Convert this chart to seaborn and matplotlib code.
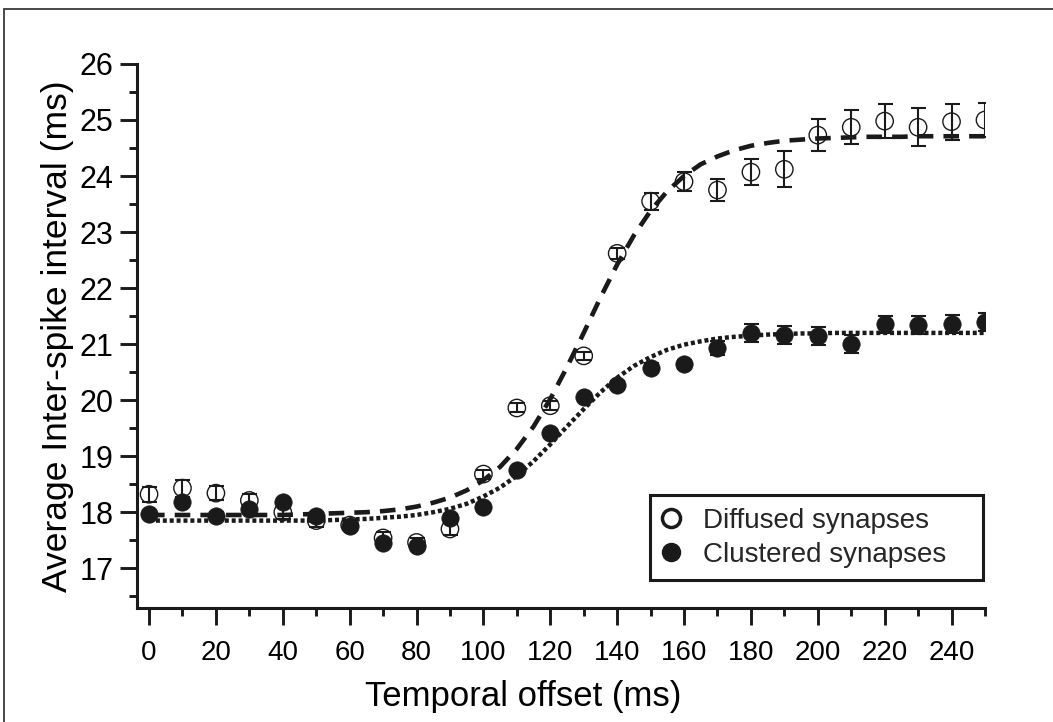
import matplotlib
matplotlib.use("Agg")
import matplotlib.pyplot as plt
import seaborn as sns
from matplotlib.lines import Line2D
from matplotlib.patches import Rectangle
from matplotlib.ticker import MultipleLocator, FixedLocator

# Measured inter-spike intervals (mean and error) per temporal offset
offset_ms = list(range(0, 251, 10))
diffused_mean = [18.32, 18.43, 18.34, 18.21, 18.00, 17.85, 17.77, 17.54, 17.46, 17.70,
                 18.68, 19.86, 19.90, 20.79, 22.62, 23.55, 23.90, 23.75, 24.07, 24.12,
                 24.73, 24.87, 24.98, 24.87, 24.97, 25.00]
diffused_err = [0.13, 0.15, 0.12, 0.12, 0.12, 0.12, 0.06, 0.10, 0.08, 0.10,
                0.08, 0.08, 0.08, 0.07, 0.10, 0.15, 0.17, 0.20, 0.23, 0.32,
                0.28, 0.30, 0.30, 0.34, 0.32, 0.31]
clustered_mean = [17.97, 18.18, 17.94, 18.05, 18.18, 17.93, 17.75, 17.45, 17.40, 17.90,
                  18.09, 18.75, 19.41, 20.05, 20.27, 20.58, 20.64, 20.93, 21.19, 21.17,
                  21.14, 21.00, 21.35, 21.34, 21.36, 21.40]
clustered_err = [0.06, 0.06, 0.06, 0.06, 0.06, 0.06, 0.06, 0.06, 0.06, 0.06,
                 0.06, 0.06, 0.06, 0.06, 0.08, 0.08, 0.08, 0.12, 0.16, 0.16,
                 0.16, 0.16, 0.16, 0.16, 0.16, 0.16]

# Sigmoidal fit curves sampled every 5 ms
fit_offset_ms = list(range(0, 251, 5))
diffused_fit = [17.95, 17.95, 17.95, 17.95, 17.95, 17.95, 17.95, 17.95, 17.95, 17.96,
                17.97, 17.98, 17.99, 18.00, 18.02, 18.05, 18.10, 18.17, 18.26, 18.39,
                18.57, 18.81, 19.13, 19.53, 20.02, 20.59, 21.20, 21.83, 22.42, 22.94,
                23.38, 23.73, 24.00, 24.21, 24.35, 24.46, 24.54, 24.59, 24.63, 24.65,
                24.67, 24.68, 24.69, 24.70, 24.70, 24.70, 24.71, 24.71, 24.71, 24.71,
                24.71]
clustered_fit = [17.85, 17.85, 17.85, 17.85, 17.85, 17.85, 17.85, 17.85, 17.85, 17.85,
                 17.85, 17.86, 17.87, 17.88, 17.90, 17.92, 17.95, 18.00, 18.06, 18.15,
                 18.28, 18.44, 18.65, 18.91, 19.21, 19.53, 19.84, 20.14, 20.40, 20.61,
                 20.77, 20.90, 20.99, 21.05, 21.10, 21.13, 21.15, 21.17, 21.18, 21.19,
                 21.19, 21.20, 21.20, 21.20, 21.20, 21.20, 21.20, 21.20, 21.20, 21.20,
                 21.20]

x_major_ticks = list(range(0, 241, 20))
x_minor_ticks = list(range(10, 251, 20))
series_labels = ["Diffused synapses", "Clustered synapses"]

sns.set_theme(style="ticks")
plt.rcParams["font.family"] = ["Liberation Sans", "DejaVu Sans"]
ink = "#1a1a1a"

fig = plt.figure(figsize=(10.53, 7.22), dpi=100)
ax = fig.add_axes([0.1301, 0.1579, 0.8053, 0.7535])

# Fit curves
sns.lineplot(x=fit_offset_ms, y=diffused_fit, ax=ax, color=ink, lw=3.3,
             linestyle=(0, (3.4, 2.2)), dash_capstyle="butt", zorder=3)
sns.lineplot(x=fit_offset_ms, y=clustered_fit, ax=ax, color=ink, lw=3.2,
             linestyle=(0, (0.9, 0.65)), dash_capstyle="butt", zorder=3)

# Error bars
ax.errorbar(offset_ms, diffused_mean, yerr=diffused_err, fmt="none", ecolor=ink,
            elinewidth=1.5, capsize=5.4, capthick=1.5, zorder=2)
ax.errorbar(offset_ms, clustered_mean, yerr=clustered_err, fmt="none", ecolor=ink,
            elinewidth=1.5, capsize=5.4, capthick=1.5, zorder=4)

# Markers
sns.scatterplot(x=offset_ms, y=diffused_mean, ax=ax, marker="o", s=12.5 ** 2,
                facecolors="none", edgecolor=ink, linewidth=1.0, zorder=4)
sns.scatterplot(x=offset_ms, y=clustered_mean, ax=ax, marker="o", s=12.5 ** 2,
                color=ink, edgecolor=ink, linewidth=0.5, zorder=5)

ax.set_xlim(-3.6, 250)
ax.set_ylim(16.29, 26)
ax.xaxis.set_major_locator(FixedLocator(x_major_ticks))
ax.xaxis.set_minor_locator(FixedLocator(x_minor_ticks))
ax.yaxis.set_major_locator(MultipleLocator(1))
ax.yaxis.set_minor_locator(MultipleLocator(0.5))

for side in ("top", "right"):
    ax.spines[side].set_visible(False)
for side in ("left", "bottom"):
    ax.spines[side].set_linewidth(2.2)
    ax.spines[side].set_color(ink)

ax.tick_params(which="major", length=12, width=2.1, color=ink, direction="out")
ax.tick_params(which="minor", length=5.5, width=2.1, color=ink, direction="out")
ax.tick_params(axis="y", which="major", labelsize=22, pad=5, labelcolor="black")
ax.tick_params(axis="x", which="major", labelsize=20, pad=11, labelcolor="black")

ax.set_xlabel("Temporal offset (ms)", fontsize=25, color="black")
ax.xaxis.set_label_coords(0.456, -0.132)
ax.set_ylabel("Average Inter-spike interval (ms)", fontsize=25.5, labelpad=4, color="black")

handles = [
    Line2D([], [], ls="none", marker="o", ms=13, mfc="white", mec=ink, mew=2.5),
    Line2D([], [], ls="none", marker="o", ms=13, mfc=ink, mec=ink, mew=1),
]
leg = ax.legend(handles, series_labels, loc="upper left",
                bbox_to_anchor=(0.605, 0.0533, 0.3927, 0.1544), mode="expand",
                borderaxespad=0, frameon=True, fancybox=False, framealpha=1,
                edgecolor=ink, fontsize=20, handlelength=0.6, handletextpad=0.86,
                borderpad=0.45, labelspacing=0.3)
leg.get_frame().set_linewidth(2.2)

# Outer frame around the figure
fig.add_artist(Rectangle((4 / 1053, -0.2), 2.0, 1.2 - 9 / 722, transform=fig.transFigure,
                         fill=False, lw=1.3, ec="#3a3a3a", clip_on=False))

fig.savefig("out.png", dpi=100)
